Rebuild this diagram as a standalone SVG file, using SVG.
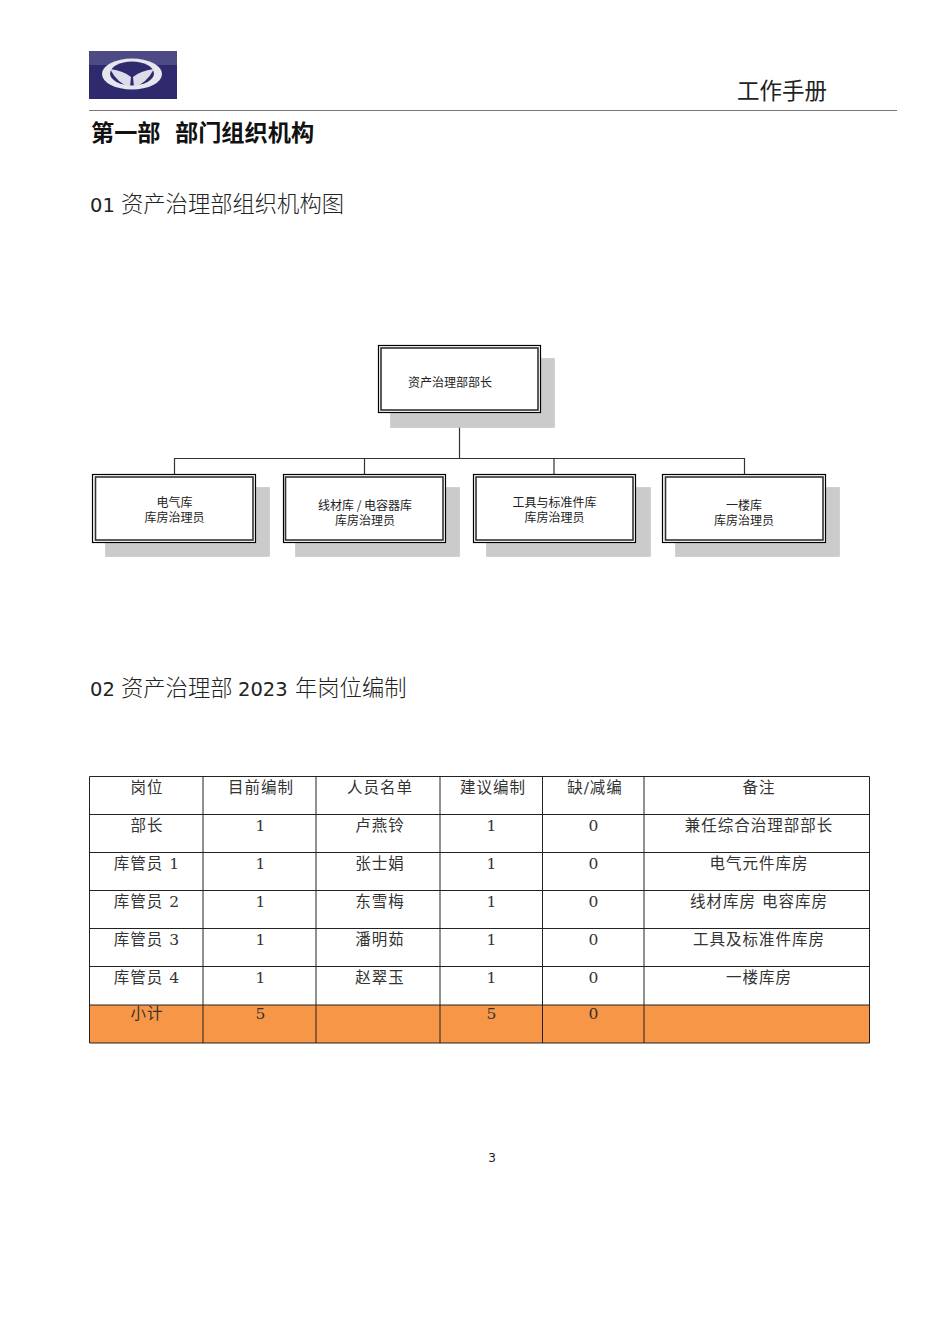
<svg xmlns="http://www.w3.org/2000/svg" width="950" height="1344" viewBox="0 0 950 1344">
<style>
text{font-family:"Liberation Serif","DejaVu Serif","Noto Sans CJK SC",serif;fill:#222}
.h{font-family:"DejaVu Sans","Noto Sans CJK SC",sans-serif;font-size:19.500px;fill:#222}
.k{font-family:"Noto Sans CJK SC",sans-serif;font-size:22.300px;font-weight:300;fill:#222}
.b{font-family:"Noto Sans CJK SC",sans-serif;font-size:23.200px;font-weight:700;fill:#111}
.t{font-family:"DejaVu Serif","Noto Sans CJK SC",serif;font-size:15.500px;letter-spacing:1px;text-anchor:middle;fill:#333}
.n{font-family:"Noto Sans CJK SC",sans-serif;font-size:12px;text-anchor:middle;fill:#222}
.sh{fill:#cbcbcb;stroke:#bbb;stroke-width:.5}
.o{fill:#fff;stroke:#000;stroke-width:1.2}
.i{fill:#fff;stroke:#333;stroke-width:1.6}
.c{fill:none;stroke:#333;stroke-width:1.2}
.g{fill:none;stroke:#222;stroke-width:1}
</style>
<rect width="950" height="1344" fill="#fff"/>
<g id="header">
<rect x="89" y="51" width="88" height="48" fill="#2f2a6e"/>
<rect x="89" y="51" width="88" height="14" fill="#4d4a86"/>
<ellipse cx="132" cy="74" rx="30" ry="15.5" fill="#e6e6ee"/>
<ellipse cx="132" cy="73.500" rx="22" ry="12" fill="#2f2a6e"/>
<path d="M110 69 Q124 71 131 77 L130 87 Q118 84 110 69Z M154 69 Q140 71 133 77 L134 87 Q146 84 154 69Z" fill="#dcdce8"/>
<line x1="89" y1="110.500" x2="897" y2="110.500" stroke="#777" stroke-width="1"/>
<text x="737" y="99" style="font-family:'Noto Sans CJK SC',sans-serif;font-size:22.500px">工作手册</text>
</g>
<text x="91" y="141" class="b">第一部</text>
<text x="175" y="141" class="b">部门组织机构</text>
<text x="90" y="212" class="h">01</text>
<text x="121" y="212" class="k">资产治理部组织机构图</text>
<g id="connectors">
<path class="c" d="M459.500 413V458.500M174.500 474V458.500H744.500V474M364.500 458.500V474M554 458.500V474"/>
</g>
<g id="node-head">
<rect class="sh" x="390.500" y="358.500" width="164" height="69"/>
<rect class="o" x="378.500" y="345.500" width="162" height="67"/>
<rect class="i" x="381" y="348" width="157" height="62"/>
<text class="n" x="450" y="387">资产治理部部长</text>
</g>
<g id="node-1">
<rect class="sh" x="105.500" y="487.500" width="164" height="69"/>
<rect class="o" x="92.500" y="474.500" width="163" height="68"/>
<rect class="i" x="95.500" y="477" width="157.500" height="63"/>
<text class="n" x="174.500" y="507">电气库</text>
<text class="n" x="174.500" y="521.500">库房治理员</text>
</g>
<g id="node-2">
<rect class="sh" x="295.500" y="487.500" width="164" height="69"/>
<rect class="o" x="283.500" y="474.500" width="162" height="68"/>
<rect class="i" x="285.500" y="477" width="157.500" height="63"/>
<text class="n" x="365" y="510">线材库 / 电容器库</text>
<text class="n" x="365" y="524.500">库房治理员</text>
</g>
<g id="node-3">
<rect class="sh" x="486.500" y="487.500" width="164" height="69"/>
<rect class="o" x="473.500" y="474.500" width="162" height="68"/>
<rect class="i" x="476" y="477" width="157" height="63"/>
<text class="n" x="554.500" y="507">工具与标准件库</text>
<text class="n" x="554.500" y="521.500">库房治理员</text>
</g>
<g id="node-4">
<rect class="sh" x="675.500" y="487.500" width="164" height="69"/>
<rect class="o" x="662.500" y="474.500" width="163" height="68"/>
<rect class="i" x="665.500" y="477" width="157.500" height="63"/>
<text class="n" x="744" y="510">一楼库</text>
<text class="n" x="744" y="524.500">库房治理员</text>
</g>
<text x="90" y="696" class="h">02</text>
<text x="121" y="696" class="k">资产治理部</text>
<text x="238" y="696" class="h">2023</text>
<text x="295" y="696" class="k">年岗位编制</text>
<g id="table">
<rect x="89.500" y="1005" width="780" height="38" fill="#f79646"/>
<path class="g" d="M89.500 776.500H869.500M89.500 814.500H869.500M89.500 852.500H869.500M89.500 890.500H869.500M89.500 928.500H869.500M89.500 966.500H869.500M89.500 1005H869.500M89.500 1043H869.500M89.500 776.500V1043M203 776.500V1043M316 776.500V1043M440 776.500V1043M542.500 776.500V1043M644 776.500V1043M869.500 776.500V1043"/>
<g class="hdr">
<text class="t" x="147" y="793">岗位</text><text class="t" x="261" y="793">目前编制</text><text class="t" x="380" y="793">人员名单</text><text class="t" x="493" y="793">建议编制</text><text class="t" x="595" y="793">缺/减编</text><text class="t" x="759" y="793">备注</text>
<text class="t" x="147" y="831">部长</text><text class="t" x="261" y="831">1</text><text class="t" x="380" y="831">卢燕铃</text><text class="t" x="492" y="831">1</text><text class="t" x="594" y="831">0</text><text class="t" x="759" y="831">兼任综合治理部部长</text>
<text class="t" x="147" y="869">库管员 1</text><text class="t" x="261" y="869">1</text><text class="t" x="380" y="869">张士娟</text><text class="t" x="492" y="869">1</text><text class="t" x="594" y="869">0</text><text class="t" x="759" y="869">电气元件库房</text>
<text class="t" x="147" y="907">库管员 2</text><text class="t" x="261" y="907">1</text><text class="t" x="380" y="907">东雪梅</text><text class="t" x="492" y="907">1</text><text class="t" x="594" y="907">0</text><text class="t" x="759" y="907">线材库房 电容库房</text>
<text class="t" x="147" y="945">库管员 3</text><text class="t" x="261" y="945">1</text><text class="t" x="380" y="945">潘明茹</text><text class="t" x="492" y="945">1</text><text class="t" x="594" y="945">0</text><text class="t" x="759" y="945">工具及标准件库房</text>
<text class="t" x="147" y="983">库管员 4</text><text class="t" x="261" y="983">1</text><text class="t" x="380" y="983">赵翠玉</text><text class="t" x="492" y="983">1</text><text class="t" x="594" y="983">0</text><text class="t" x="759" y="983">一楼库房</text>
<text class="t" x="147" y="1019">小计</text><text class="t" x="261" y="1019">5</text><text class="t" x="492" y="1019">5</text><text class="t" x="594" y="1019">0</text>
</g>
</g>
<text x="492" y="1162" style="font-family:'DejaVu Sans',sans-serif;font-size:12px;text-anchor:middle">3</text>
</svg>
